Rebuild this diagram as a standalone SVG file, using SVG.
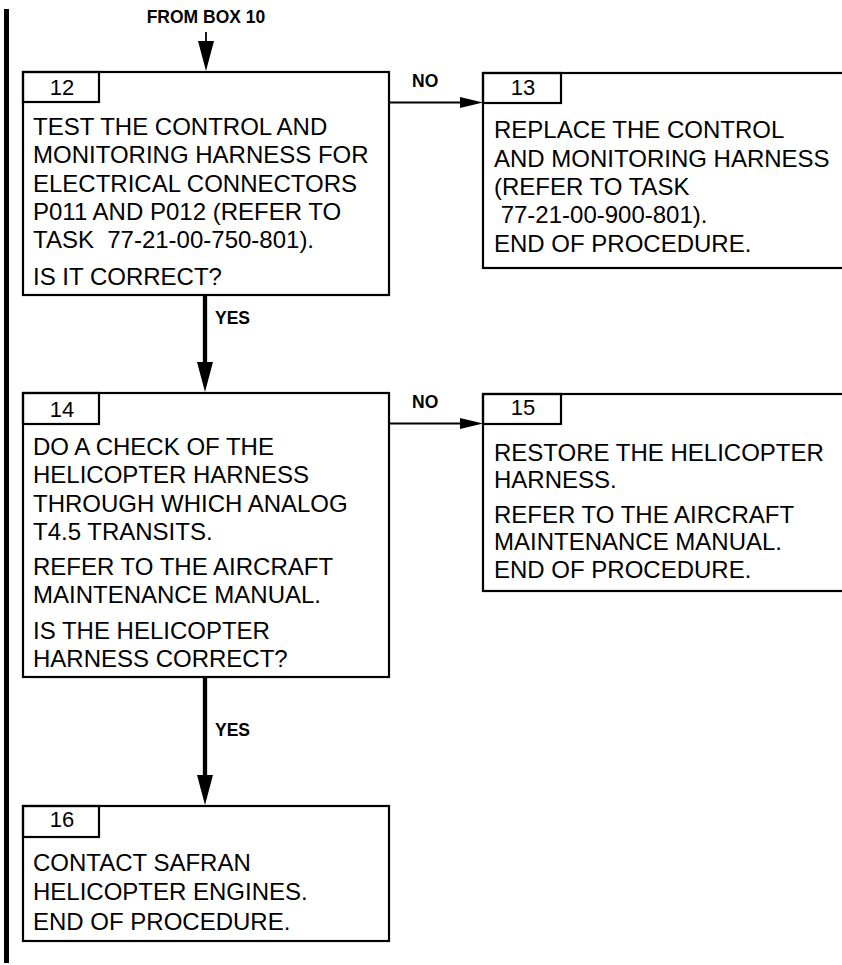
<svg xmlns="http://www.w3.org/2000/svg" width="842" height="965" viewBox="0 0 842 965">
<style>
.box{fill:#fff;stroke:#000;stroke-width:2.2}
.tab{fill:none;stroke:#000;stroke-width:2.2}
.t{font-family:"Liberation Sans",Arial,sans-serif;font-size:24px;fill:#000;white-space:pre}
.num{font-family:"Liberation Sans",Arial,sans-serif;font-size:22px;fill:#000;text-anchor:middle}
.lbl{font-family:"Liberation Sans",Arial,sans-serif;font-size:17.5px;font-weight:bold;fill:#000}
.thin{stroke:#000;stroke-width:1.8;fill:none}
.thick{stroke:#000;stroke-width:4.3;fill:none}
</style>
<defs>
<marker id="arrV" markerUnits="userSpaceOnUse" markerWidth="30" markerHeight="16" refX="0" refY="8" orient="auto" overflow="visible">
<path d="M0,0 L30,8 L0,16 Z" fill="#000"/>
</marker>
<marker id="arrH" markerUnits="userSpaceOnUse" markerWidth="23" markerHeight="11" refX="0" refY="5.5" orient="auto" overflow="visible">
<path d="M0,0 L23,5.5 L0,11 Z" fill="#000"/>
</marker>
</defs>
<rect width="842" height="965" fill="#fff"/>
<rect x="4" y="9" width="5" height="954" fill="#000"/>

<g id="connectors">
<text class="lbl" x="206" y="23" text-anchor="middle">FROM BOX 10</text>
<line class="thin" x1="206" y1="32" x2="206" y2="41" marker-end="url(#arrV)"/>
<line class="thin" x1="389" y1="102.5" x2="460" y2="102.5" marker-end="url(#arrH)"/>
<text class="lbl" x="412" y="87">NO</text>
<line class="thick" x1="205" y1="296" x2="205" y2="362" marker-end="url(#arrV)"/>
<text class="lbl" x="215" y="324">YES</text>
<line class="thin" x1="389" y1="423.5" x2="460" y2="423.5" marker-end="url(#arrH)"/>
<text class="lbl" x="412" y="408">NO</text>
<line class="thick" x1="205" y1="678" x2="205" y2="775" marker-end="url(#arrV)"/>
<text class="lbl" x="215" y="736">YES</text>
</g>

<g id="box12">
<rect class="box" x="23" y="72" width="366" height="223"/>
<rect class="tab" x="23" y="72" width="76" height="30"/>
<text class="num" x="62" y="95">12</text>
<text class="t" x="33" y="135">TEST THE CONTROL AND</text>
<text class="t" x="33" y="163">MONITORING HARNESS FOR</text>
<text class="t" x="33" y="192">ELECTRICAL CONNECTORS</text>
<text class="t" x="33" y="220">P011 AND P012 (REFER TO</text>
<text class="t" x="33" y="248">TASK  77-21-00-750-801).</text>
<text class="t" x="33" y="285">IS IT CORRECT?</text>
</g>

<g id="box13">
<rect class="box" x="483" y="73" width="370" height="195"/>
<rect class="tab" x="483" y="73" width="78" height="30"/>
<text class="num" x="523" y="95">13</text>
<text class="t" x="494" y="138">REPLACE THE CONTROL</text>
<text class="t" x="494" y="167">AND MONITORING HARNESS</text>
<text class="t" x="494" y="195">(REFER TO TASK</text>
<text class="t" x="494" y="223"> 77-21-00-900-801).</text>
<text class="t" x="494" y="252">END OF PROCEDURE.</text>
</g>

<g id="box14">
<rect class="box" x="23" y="393" width="366" height="284"/>
<rect class="tab" x="23" y="393" width="76" height="31"/>
<text class="num" x="62" y="417">14</text>
<text class="t" x="33" y="455">DO A CHECK OF THE</text>
<text class="t" x="33" y="483">HELICOPTER HARNESS</text>
<text class="t" x="33" y="512">THROUGH WHICH ANALOG</text>
<text class="t" x="33" y="540">T4.5 TRANSITS.</text>
<text class="t" x="33" y="575">REFER TO THE AIRCRAFT</text>
<text class="t" x="33" y="603">MAINTENANCE MANUAL.</text>
<text class="t" x="33" y="639">IS THE HELICOPTER</text>
<text class="t" x="33" y="667">HARNESS CORRECT?</text>
</g>

<g id="box15">
<rect class="box" x="483" y="394" width="370" height="197"/>
<rect class="tab" x="483" y="394" width="78" height="30"/>
<text class="num" x="523" y="415">15</text>
<text class="t" x="494" y="461">RESTORE THE HELICOPTER</text>
<text class="t" x="494" y="488">HARNESS.</text>
<text class="t" x="494" y="523">REFER TO THE AIRCRAFT</text>
<text class="t" x="494" y="550">MAINTENANCE MANUAL.</text>
<text class="t" x="494" y="578">END OF PROCEDURE.</text>
</g>

<g id="box16">
<rect class="box" x="23" y="806" width="366" height="135"/>
<rect class="tab" x="23" y="806" width="76" height="31"/>
<text class="num" x="62" y="827">16</text>
<text class="t" x="33" y="871">CONTACT SAFRAN</text>
<text class="t" x="33" y="900">HELICOPTER ENGINES.</text>
<text class="t" x="33" y="930">END OF PROCEDURE.</text>
</g>
</svg>
